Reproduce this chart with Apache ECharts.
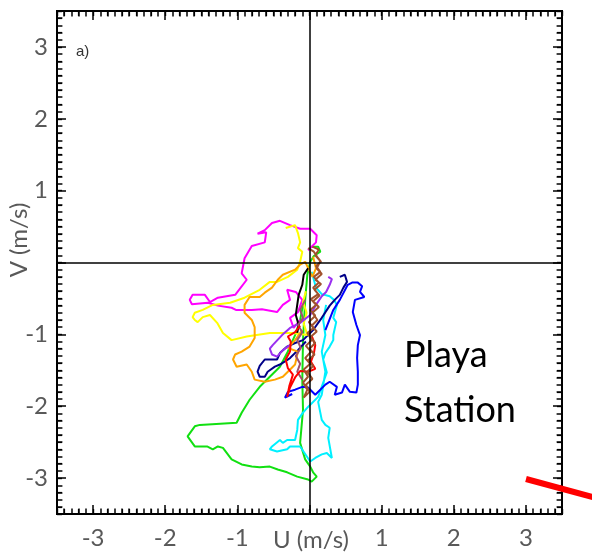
<!DOCTYPE html>
<html>
<head>
<meta charset="utf-8">
<script src="https://cdn.jsdelivr.net/npm/echarts@6/dist/echarts.min.js"></script>
<style>
html,body{margin:0;padding:0;background:#fff;}
#chart{width:592px;height:557px;}
</style>
</head>
<body>
<div id="chart"></div>
<script>
// ---- data (U, V in m/s) ----
const magentaPath = [[-0.02,0.17],[0.09,0.28],[0.10,0.38],[0.01,0.47],[-0.13,0.47],[-0.27,0.52],[-0.41,0.58],[-0.52,0.55],[-0.62,0.45],[-0.72,0.40],[-0.60,0.42],[-0.62,0.28],[-0.80,0.23],[-0.90,0.06],[-0.94,-0.15],[-0.87,-0.24],[-1.03,-0.45],[-1.27,-0.49],[-1.38,-0.55],[-1.45,-0.45],[-1.62,-0.45],[-1.66,-0.52],[-1.63,-0.58],[-1.41,-0.56],[-1.27,-0.60],[-1.08,-0.63],[-1.02,-0.66],[-0.80,-0.66],[-0.66,-0.65],[-0.45,-0.69],[-0.37,-0.59],[-0.27,-0.52],[-0.31,-0.38],[-0.19,-0.41],[-0.10,-0.52],[-0.16,-0.69],[-0.27,-0.77],[-0.22,-0.91],[-0.13,-0.80]];
const yellowPath = [[-0.33,0.48],[-0.20,0.52],[-0.16,0.41],[-0.13,0.28],[-0.16,0.20],[-0.10,0.15],[-0.13,0.01],[-0.17,-0.10],[-0.30,-0.20],[-0.45,-0.27],[-0.55,-0.27],[-0.69,-0.38],[-0.90,-0.49],[-1.10,-0.56],[-1.34,-0.59],[-1.48,-0.66],[-1.59,-0.70],[-1.62,-0.76],[-1.59,-0.80],[-1.55,-0.83],[-1.48,-0.76],[-1.38,-0.73],[-1.28,-0.84],[-1.20,-0.98],[-1.08,-1.08],[-0.87,-1.03],[-0.55,-0.98],[-0.23,-0.98],[-0.03,-1.01],[-0.08,-0.85],[-0.04,-0.70],[-0.09,-0.55],[-0.05,-0.40]];
const orangePath = [[0.05,0.08],[0.09,-0.08],[0.04,-0.20],[-0.06,0.01],[-0.13,-0.03],[-0.20,-0.10],[-0.37,-0.17],[-0.44,-0.24],[-0.52,-0.35],[-0.62,-0.42],[-0.69,-0.48],[-0.83,-0.48],[-0.90,-0.59],[-0.90,-0.70],[-0.80,-0.80],[-0.76,-0.90],[-0.76,-1.05],[-0.83,-1.17],[-0.94,-1.24],[-1.03,-1.28],[-1.06,-1.35],[-1.01,-1.45],[-0.87,-1.42],[-0.80,-1.52],[-0.76,-1.63],[-0.62,-1.66],[-0.48,-1.63],[-0.37,-1.59],[-0.30,-1.52],[-0.20,-1.42],[-0.16,-1.24],[-0.30,-1.19],[-0.20,-1.08],[-0.10,-0.94]];
const greenPath = [[0.03,0.22],[0.12,0.22],[0.15,0.15],[0.06,0.09],[0.01,0.01],[-0.03,-0.17],[-0.06,-0.52],[-0.09,-1.08],[-0.10,-1.63],[-0.09,-2.05],[-0.13,-2.51],[-0.06,-2.74],[0.01,-2.84],[0.05,-2.92],[0.10,-2.98],[0.03,-3.05],[-0.02,-3.02],[-0.17,-2.98],[-0.31,-2.92],[-0.44,-2.88],[-0.55,-2.84],[-0.69,-2.85],[-0.80,-2.84],[-0.94,-2.81],[-1.08,-2.74],[-1.20,-2.58],[-1.27,-2.56],[-1.34,-2.60],[-1.42,-2.56],[-1.59,-2.56],[-1.69,-2.42],[-1.59,-2.28],[-1.52,-2.26],[-1.01,-2.23],[-0.94,-2.09],[-0.83,-1.91],[-0.69,-1.73],[-0.55,-1.59],[-0.41,-1.45],[-0.31,-1.26],[-0.20,-1.01],[-0.13,-0.80],[-0.09,-0.59]];
const cyanPath = [[0.03,-0.13],[0.09,-0.35],[0.17,-0.44],[0.28,-0.47],[0.34,-0.52],[0.38,-0.59],[0.33,-0.77],[0.37,-0.83],[0.33,-1.01],[0.33,-1.08],[0.28,-1.17],[0.22,-1.26],[0.19,-1.35],[0.24,-1.53],[0.19,-1.67],[0.12,-1.87],[-0.02,-2.01],[-0.09,-2.09],[-0.16,-2.19],[-0.17,-2.33],[-0.20,-2.47],[-0.31,-2.47],[-0.37,-2.51],[-0.41,-2.47],[-0.52,-2.56],[-0.55,-2.60],[-0.45,-2.63],[-0.31,-2.60],[-0.27,-2.56],[-0.13,-2.56],[0.01,-2.77],[0.08,-2.72],[0.17,-2.67],[0.24,-2.65],[0.31,-2.72],[0.26,-2.44],[0.28,-2.30],[0.22,-2.26],[0.17,-2.19],[0.12,-1.94],[0.17,-1.84],[0.22,-1.52],[0.17,-1.24],[0.22,-1.01],[0.19,-0.80],[0.23,-0.59]];
const bluePath = [[0.22,-0.94],[0.33,-0.66],[0.42,-0.52],[0.53,-0.31],[0.59,-0.28],[0.67,-0.28],[0.73,-0.33],[0.70,-0.41],[0.76,-0.48],[0.63,-0.52],[0.60,-0.69],[0.65,-0.87],[0.70,-1.01],[0.67,-1.15],[0.66,-1.33],[0.67,-1.52],[0.67,-1.70],[0.65,-1.81],[0.56,-1.80],[0.49,-1.70],[0.45,-1.81],[0.35,-1.84],[0.38,-1.73],[0.28,-1.66],[0.22,-1.70],[0.08,-1.84],[-0.02,-1.74],[-0.10,-1.73],[-0.20,-1.77],[-0.30,-1.80],[-0.34,-1.88],[-0.24,-1.83]];
const navyPath = [[0.42,-0.20],[0.49,-0.17],[0.52,-0.27],[0.47,-0.35],[0.42,-0.45],[0.35,-0.52],[0.28,-0.60],[0.17,-0.77],[0.05,-0.94],[-0.09,-1.08],[-0.20,-1.12],[-0.31,-1.17],[-0.41,-1.26],[-0.45,-1.35],[-0.55,-1.35],[-0.62,-1.35],[-0.69,-1.44],[-0.72,-1.52],[-0.69,-1.59],[-0.62,-1.59],[-0.58,-1.52],[-0.48,-1.45],[-0.41,-1.42],[-0.27,-1.33],[-0.16,-1.22],[-0.05,-1.10]];
const redPath = [[-0.13,-0.88],[-0.20,-0.97],[-0.30,-1.03],[-0.26,-1.10],[-0.27,-1.24],[-0.33,-1.35],[-0.30,-1.47],[-0.23,-1.56],[-0.28,-1.72],[-0.31,-1.87],[-0.27,-1.74],[-0.20,-1.60],[-0.13,-1.51],[-0.02,-1.52],[0.08,-1.48],[0.02,-1.38],[0.06,-1.27],[0.08,-1.15],[0.03,-1.02]];
const purplePath = [[0.26,-0.20],[0.31,-0.23],[0.28,-0.31],[0.23,-0.41],[0.17,-0.47],[0.09,-0.59],[0.01,-0.73],[-0.13,-0.84],[-0.27,-0.91],[-0.38,-1.01],[-0.51,-1.15],[-0.55,-1.20],[-0.52,-1.28],[-0.45,-1.31],[-0.37,-1.22],[-0.27,-1.15]];
const blackPath = [[-0.02,-0.08],[-0.08,-0.17],[-0.10,-0.31],[-0.15,-0.45],[-0.17,-0.59],[-0.19,-0.73],[-0.15,-0.87],[-0.17,-0.98]];
const mauvePath = [[-0.06,-0.52],[-0.13,-0.66],[-0.09,-0.77],[-0.16,-0.87],[-0.10,-0.97],[-0.17,-1.08],[-0.12,-1.19],[-0.19,-1.30],[-0.13,-1.41],[-0.17,-1.52],[-0.10,-1.63]];
const brownPath = [[-0.02,0.20],[0.06,0.15],[0.12,0.06],[0.16,0.01],[0.09,-0.05],[0.15,-0.13],[0.06,-0.20],[0.13,-0.28],[0.05,-0.35],[0.12,-0.44],[0.02,-0.51],[0.09,-0.59],[0.01,-0.66],[0.08,-0.74],[-0.01,-0.83],[0.06,-0.91],[-0.03,-0.98],[0.03,-1.08],[-0.05,-1.16],[0.02,-1.24],[-0.06,-1.33],[0.01,-1.41],[-0.08,-1.49],[-0.02,-1.59],[-0.09,-1.67],[-0.03,-1.77],[-0.08,-1.88],[0.00,-1.80],[-0.05,-1.70],[0.04,-1.62],[-0.03,-1.52],[0.05,-1.44],[-0.02,-1.36],[0.07,-1.28],[0.00,-1.20],[0.08,-1.12],[0.01,-1.04],[0.10,-0.96],[0.03,-0.88],[0.11,-0.80],[0.04,-0.70],[0.13,-0.62],[0.05,-0.54],[0.14,-0.46],[0.07,-0.38],[0.16,-0.30],[0.08,-0.24],[0.17,-0.16],[0.10,-0.08],[0.15,0.02],[0.08,0.10],[0.13,0.18],[0.04,0.22]];

const axisMin = -3.5, axisMax = 3.5;
const tickLabels = ['-3','-2','-1','1','2','3'];
const minorTickValues = [-3.4,-3.3,-3.2,-3.1,-2.9,-2.8,-2.7,-2.6,-2.5,-2.4,-2.3,-2.2,-2.1,-1.9,-1.8,-1.7,-1.6,-1.5,-1.4,-1.3,-1.2,-1.1,-0.9,-0.8,-0.7,-0.6,-0.5,-0.4,-0.3,-0.2,-0.1,0.1,0.2,0.3,0.4,0.5,0.6,0.7,0.8,0.9,1.1,1.2,1.3,1.4,1.5,1.6,1.7,1.8,1.9,2.1,2.2,2.3,2.4,2.5,2.6,2.7,2.8,2.9,3.1,3.2,3.3,3.4];
const minorTickLen = 0.075; // in axis units (about 5.5 px)

const seriesDefs = [
  ['green', greenPath, '#11e011'],
  ['cyan', cyanPath, '#00f0ff'],
  ['blue', bluePath, '#0000ff'],
  ['navy', navyPath, '#000088'],
  ['magenta', magentaPath, '#ff00ff'],
  ['yellow', yellowPath, '#ffff00'],
  ['orange', orangePath, '#ffa500'],
  ['purple', purplePath, '#9a30f0'],
  ['black', blackPath, '#000000'],
  ['mauve', mauvePath, '#a0506a'],
  ['red', redPath, '#ff0000'],
  ['brown', brownPath, '#a0522d']
];

const labelFont = 'Lato, "Open Sans", sans-serif';
function fmt(v){
  if (Math.abs(v - Math.round(v)) > 1e-6) return '';
  const s = String(Math.round(v));
  return tickLabels.indexOf(s) >= 0 ? s : '';
}
function majorAxis(pos, showLabel){
  return {
    type:'value', position:pos, min:axisMin, max:axisMax, splitNumber:7,
    axisLine:{show:true, onZero:false, lineStyle:{color:'#000', width:2}},
    axisTick:{show:true, inside:true, length:9, lineStyle:{color:'#000', width:1.5}},
    axisLabel:{show:showLabel, formatter:fmt, fontSize:24, color:'#595959', fontFamily:labelFont, margin: (pos==='bottom'?12:9)},
    splitLine:{show:false}
  };
}
function minorAxis(pos, split){
  return {
    type:'value', position:pos, min:axisMin, max:axisMax, splitNumber:split, offset:0,
    axisLine:{show:true, onZero:false, lineStyle:{color:'#000', width:2}},
    axisTick:{show:true, inside:true, length:5, lineStyle:{color:'#000', width:1.2}},
    axisLabel:{show:false}, splitLine:{show:false}
  };
}

// minor tick segments on the four sides, expressed in axis units
const minorTickSegments = [];
minorTickValues.forEach(function(v){
  minorTickSegments.push([{coord:[v, axisMin]}, {coord:[v, axisMin + minorTickLen]}]);
  minorTickSegments.push([{coord:[v, axisMax]}, {coord:[v, axisMax - minorTickLen]}]);
  minorTickSegments.push([{coord:[axisMin, v]}, {coord:[axisMin + minorTickLen, v]}]);
  minorTickSegments.push([{coord:[axisMax, v]}, {coord:[axisMax - minorTickLen, v]}]);
});

const series = seriesDefs.map(function(d){
  return {
    name:d[0], type:'line', data:d[1], showSymbol:false, symbol:'none',
    lineStyle:{color:d[2], width:2}, xAxisIndex:0, yAxisIndex:0, animation:false, clip:true
  };
});
series.unshift({
  type:'line', data:[], xAxisIndex:0, yAxisIndex:0, silent:true, clip:false,
  markLine:{silent:true, symbol:'none', label:{show:false}, animation:false,
    lineStyle:{color:'#000', width:1.5, type:'solid'},
    data:[{xAxis:0},{yAxis:0}]}
});
series.push({
  type:'line', data:[], xAxisIndex:0, yAxisIndex:0, silent:true, clip:false, z:10,
  markLine:{silent:true, symbol:['none','none'], label:{show:false}, animation:false, precision:3,
    lineStyle:{color:'#000', width:1.5, type:'solid', opacity:1},
    emphasis:{disabled:true},
    data:minorTickSegments}
});

const chart = echarts.init(document.getElementById('chart'));
chart.setOption({
  animation:false,
  backgroundColor:'#fff',
  grid:{left:57, right:30, top:11, bottom:43, containLabel:false, outerBoundsMode:'none'},
  xAxis:[majorAxis('bottom', true), majorAxis('top', false),
         minorAxis('bottom', 35), minorAxis('top', 35), minorAxis('bottom', 14), minorAxis('top', 14)],
  yAxis:[majorAxis('left', true), majorAxis('right', false),
         minorAxis('left', 35), minorAxis('right', 35), minorAxis('left', 14), minorAxis('right', 14)],
  series:series,
  graphic:[
    {type:'text', x:19, y:240, rotation:Math.PI/2,
      style:{text:'V (m/s)', fontSize:24, fill:'#595959', fontFamily:labelFont, textAlign:'center', textVerticalAlign:'middle'}},
    {type:'text', x:311, y:540,
      style:{text:'U (m/s)', fontSize:24, fill:'#595959', fontFamily:labelFont, textAlign:'center', textVerticalAlign:'middle'}},
    {type:'text', x:76, y:52,
      style:{text:'a)', fontSize:15, fill:'#333', fontFamily:'"Liberation Sans", Arial, sans-serif', textAlign:'left', textVerticalAlign:'middle'}},
    {type:'text', x:404, y:355,
      style:{text:'Playa', fontSize:36, fill:'#000', fontFamily:labelFont, textAlign:'left', textVerticalAlign:'middle'}},
    {type:'text', x:404, y:410,
      style:{text:'Station', fontSize:36, fill:'#000', fontFamily:labelFont, textAlign:'left', textVerticalAlign:'middle'}},
    {type:'line', shape:{x1:526, y1:479, x2:600, y2:499}, style:{stroke:'#ff0000', lineWidth:6}, z:100}
  ]
});
</script>
</body>
</html>
